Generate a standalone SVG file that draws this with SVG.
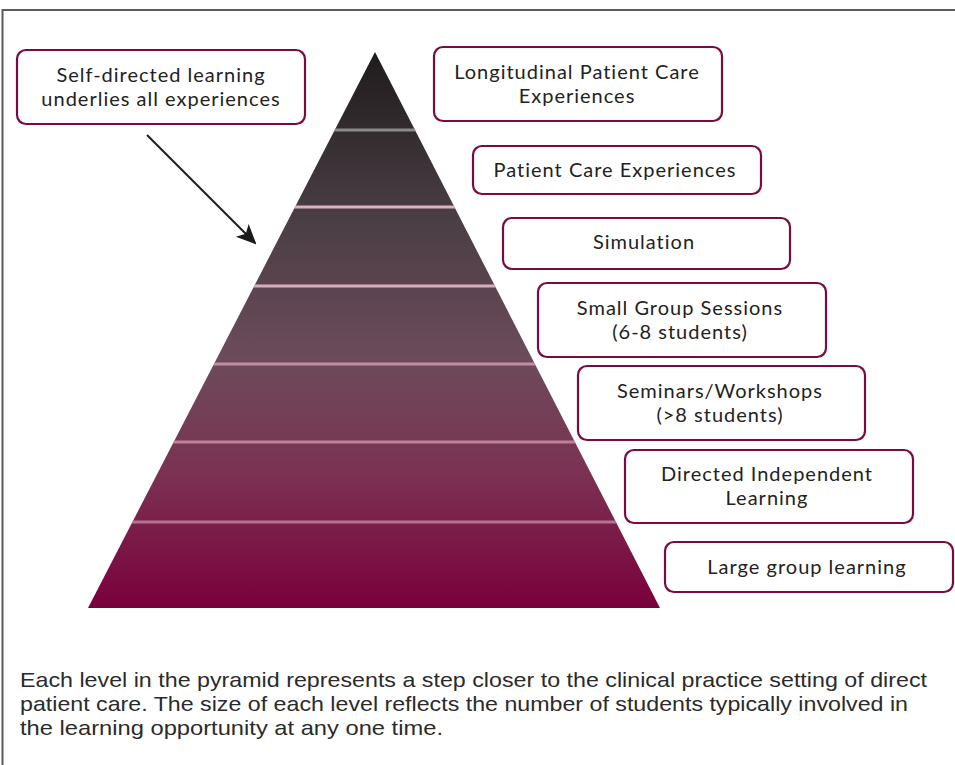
<svg xmlns="http://www.w3.org/2000/svg" width="955" height="765" viewBox="0 0 955 765">
  <defs>
    <linearGradient id="pyrFill" x1="0" y1="52" x2="0" y2="608" gradientUnits="userSpaceOnUse">
      <stop offset="0" stop-color="#1f1b1c"/>
      <stop offset="0.3" stop-color="#4a3e44"/>
      <stop offset="0.55" stop-color="#6c4b5a"/>
      <stop offset="0.75" stop-color="#7b3353"/>
      <stop offset="1" stop-color="#7a003c"/>
    </linearGradient>
    <marker id="stealth" viewBox="0 0 20 20" refX="18" refY="10" markerWidth="20" markerHeight="20" markerUnits="userSpaceOnUse" orient="auto">
      <path d="M0,1 L20,10 L0,19 L5,10 Z" fill="#1a1a1a"/>
    </marker>
    <clipPath id="pyrClip">
      <polygon points="375,52 660,608 88,608"/>
    </clipPath>
  </defs>
  <style>
    .box { fill: #ffffff; stroke: #7a0a3f; stroke-width: 2.2; }
    .lbl { font-family: Lato, "Open Sans", "Liberation Sans", sans-serif; font-size: 20px; letter-spacing: 1px; fill: #222222; text-anchor: middle; }
    .cap { font-family: "Liberation Sans", "Open Sans", sans-serif; font-size: 21px; fill: #2b2b2b; }
    .sep { stroke-width: 3; }
  </style>

  <!-- frame -->
  <polyline points="2.5,765 2.5,10 955,10" fill="none" stroke="#5a5a5a" stroke-width="2"/>

  <!-- pyramid -->
  <g id="pyramid">
    <polygon points="375,52 660,608 88,608" fill="url(#pyrFill)"/>
    <g clip-path="url(#pyrClip)">
      <line class="sep" x1="80" y1="130" x2="680" y2="130" stroke="#8c8a8b"/>
      <line class="sep" x1="80" y1="207" x2="680" y2="207" stroke="#d9b3c5"/>
      <line class="sep" x1="80" y1="286" x2="680" y2="286" stroke="#d7aec0"/>
      <line class="sep" x1="80" y1="364" x2="680" y2="364" stroke="#c995ab" stroke-opacity="0.9"/>
      <line class="sep" x1="80" y1="442" x2="680" y2="442" stroke="#c48aa3" stroke-opacity="0.9"/>
      <line class="sep" x1="80" y1="522" x2="680" y2="522" stroke="#bd7c98" stroke-opacity="0.9"/>
    </g>
  </g>

  <!-- nodes -->
  <g id="self-directed">
    <rect class="box" x="17" y="50" width="288" height="74" rx="9"/>
    <text class="lbl" x="161" y="82">Self-directed learning</text>
    <text class="lbl" x="161" y="106">underlies all experiences</text>
  </g>
  <g id="longitudinal">
    <rect class="box" x="434" y="47" width="288" height="74" rx="9"/>
    <text class="lbl" x="577" y="79">Longitudinal Patient Care</text>
    <text class="lbl" x="577" y="103">Experiences</text>
  </g>
  <g id="patient-care">
    <rect class="box" x="473" y="146" width="288" height="48" rx="9"/>
    <text class="lbl" x="615" y="177">Patient Care Experiences</text>
  </g>
  <g id="simulation">
    <rect class="box" x="503" y="218" width="287" height="51" rx="9"/>
    <text class="lbl" x="644" y="249">Simulation</text>
  </g>
  <g id="small-group">
    <rect class="box" x="538" y="283" width="288" height="74" rx="9"/>
    <text class="lbl" x="680" y="315">Small Group Sessions</text>
    <text class="lbl" x="680" y="339">(6-8 students)</text>
  </g>
  <g id="seminars">
    <rect class="box" x="578" y="366" width="287" height="74" rx="9"/>
    <text class="lbl" x="720" y="398">Seminars/Workshops</text>
    <text class="lbl" x="720" y="422">(&gt;8 students)</text>
  </g>
  <g id="directed-independent">
    <rect class="box" x="625" y="450" width="288" height="73" rx="9"/>
    <text class="lbl" x="767" y="481">Directed Independent</text>
    <text class="lbl" x="767" y="505">Learning</text>
  </g>
  <g id="large-group">
    <rect class="box" x="665" y="542" width="288" height="50" rx="9"/>
    <text class="lbl" x="807" y="574">Large group learning</text>
  </g>

  <!-- connectors -->
  <g id="connectors">
    <line x1="147" y1="135" x2="255" y2="243" stroke="#1a1a1a" stroke-width="2" marker-end="url(#stealth)"/>
  </g>

  <!-- caption -->
  <g id="caption">
    <text class="cap" x="20" y="687" textLength="907" lengthAdjust="spacingAndGlyphs">Each level in the pyramid represents a step closer to the clinical practice setting of direct</text>
    <text class="cap" x="20" y="711" textLength="888" lengthAdjust="spacingAndGlyphs">patient care. The size of each level reflects the number of students typically involved in</text>
    <text class="cap" x="20" y="735" textLength="423" lengthAdjust="spacingAndGlyphs">the learning opportunity at any one time.</text>
  </g>
</svg>
